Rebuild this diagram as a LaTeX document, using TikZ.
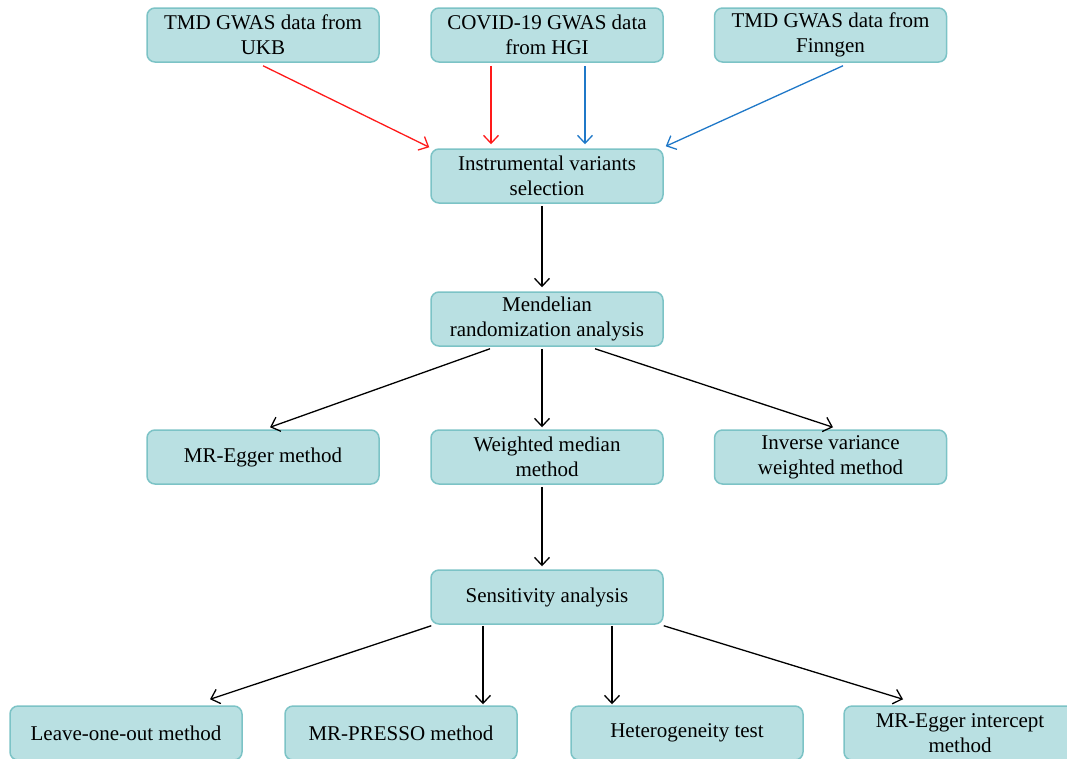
\documentclass[tikz,border=0pt]{standalone}
\usepackage{fontspec}
\setmainfont{Liberation Serif}
\usetikzlibrary{calc,arrows.meta}
\definecolor{boxfill}{HTML}{B9E0E2}
\definecolor{boxdraw}{HTML}{7CC3C6}
\definecolor{ared}{HTML}{FF1A1A}
\definecolor{ablue}{HTML}{1F78C8}
\tikzset{
  box/.style={draw=boxdraw, fill=boxfill, line width=1.5pt, rounded corners=8pt,
    minimum width=232pt, minimum height=54pt, align=center,
    font=\fontsize{21}{25}\selectfont, inner sep=0pt},
  arr/.style={-{Straight Barb[length=8pt,width=15pt]}, line width=1.3pt},
  karr/.style={arr, draw=black},
  rarr/.style={arr, draw=ared},
  barr/.style={arr, draw=ablue}
}
\begin{document}
\begin{tikzpicture}[x=1pt,y=-1pt]
\useasboundingbox (0,0) rectangle (1067,758);
\clip (0,0) rectangle (1067,758);
\node[box] (ukb) at (263,35) {TMD GWAS data from\\UKB};
\node[box] (hgi) at (547,35) {COVID-19 GWAS data\\from HGI};
\node[box] (finn) at (830.5,35) {TMD GWAS data from\\Finngen};
\node[box] (ivs) at (547,176) {Instrumental variants\\selection};
\node[box] (mr) at (547,319) {Mendelian\\randomization analysis};
\node[box] (egger) at (263,457) {MR-Egger method};
\node[box] (wm) at (547,457) {Weighted median\\method};
\node[box] (ivw) at (830.5,457) {Inverse variance\\weighted method};
\node[box] (sens) at (547,597) {Sensitivity analysis};
\node[box] (loo) at (126,733) {Leave-one-out method};
\node[box] (presso) at (401,733) {MR-PRESSO method};
\node[box] (het) at (687,733) {Heterogeneity test};
\node[box] (egint) at (960,733) {MR-Egger intercept\\method};

\draw[rarr] ($(ukb.south)+(0,3)$) -- ($(ivs.north west)+(-1,-1)$);
\draw[rarr] ($(hgi.south)+(-56,3)$) -- ($(ivs.north)+(-56,-4)$);
\draw[barr] ($(hgi.south)+(38,3)$) -- ($(ivs.north)+(38,-4)$);
\draw[barr] ($(finn.south)+(12.5,3)$) -- ($(ivs.north east)+(2,-2)$);

\draw[karr] ($(ivs.south)+(-5,2)$) -- ($(mr.north)+(-5,-4)$);

\draw[karr] ($(mr.south)+(-57,2)$) -- ($(egger.north)+(7,-2)$);
\draw[karr] ($(mr.south)+(-5,2)$) -- ($(wm.north)+(-5,-2)$);
\draw[karr] ($(mr.south)+(48,2)$) -- ($(ivw.north)+(2.5,-2)$);

\draw[karr] ($(wm.south)+(-5,2)$) -- ($(sens.north)+(-5,-3)$);

\draw[karr] ($(sens.south west)+(1,1)$) -- ($(loo.north)+(84,-6)$);
\draw[karr] ($(sens.south)+(-64,1)$) -- ($(presso.north)+(82,-1)$);
\draw[karr] ($(sens.south)+(65,1)$) -- ($(het.north)+(-75,-1)$);
\draw[karr] ($(sens.south east)+(0,1)$) -- ($(egint.north)+(-57,-6)$);
\end{tikzpicture}
\end{document}
